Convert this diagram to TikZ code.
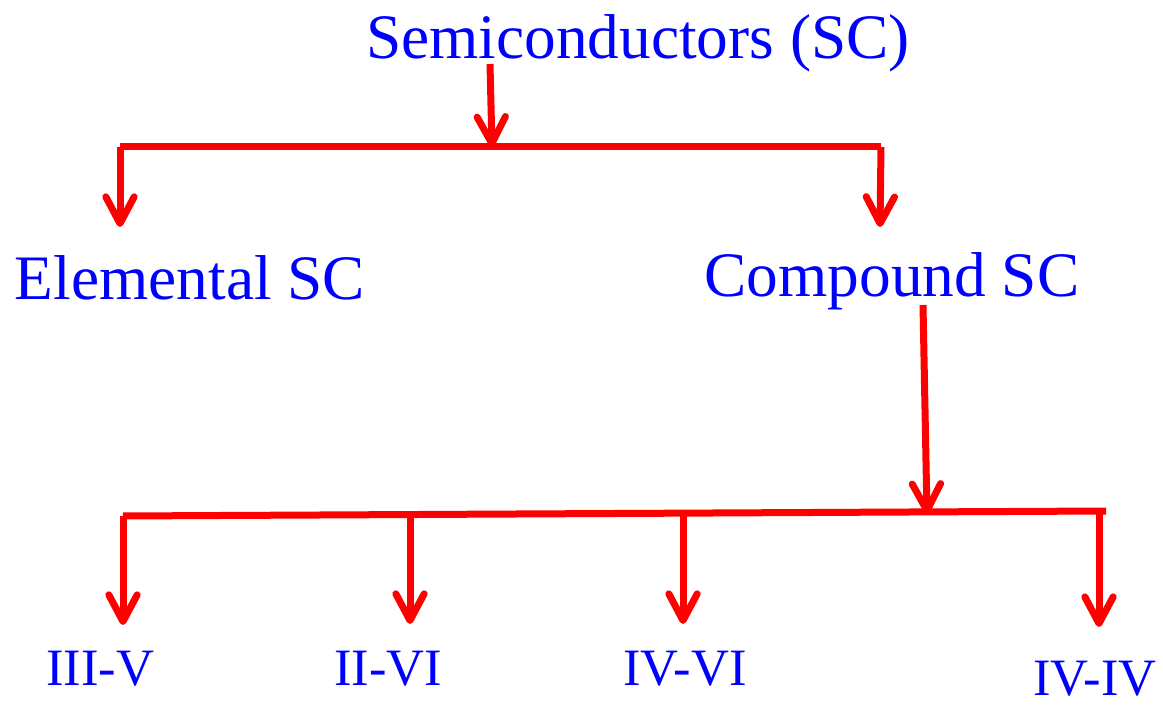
\documentclass[tikz,border=0pt]{standalone}
\usepackage{fontspec}
\setmainfont{Liberation Serif}
\usetikzlibrary{arrows.meta}
\begin{document}
\begin{tikzpicture}[x=0.6pt, y=-0.6pt, >={Straight Barb[round,length=16pt,width=17pt]},
  line/.style={red, line width=4.2pt},
  big/.style={text=blue, inner sep=0pt, anchor=base, font=\fontsize{38}{44}\selectfont},
  small/.style={text=blue, inner sep=0pt, anchor=base, font=\fontsize{31.5}{36}\selectfont}]
\useasboundingbox (0,0) rectangle (1163,705);
\node[big] (sc) at (638,59) {Semiconductors (SC)};
\node[big] (el) at (190,300) {Elemental SC};
\node[big] (co) at (892,297) {Compound SC};
% first split
\coordinate (s0) at (490,64);
\coordinate (s1) at (492,147);
\coordinate (bl) at (120,147);
\coordinate (br) at (881,147);
\coordinate (e1) at (120,227);
\coordinate (c1) at (880,227);
\draw[line,->] (s0)--(s1);
\draw[line] (bl)--(br);
\draw[line,->] (bl)--(e1);
\draw[line,->] (br)--(c1);
% second split
\coordinate (c2) at (923,305);
\coordinate (c3) at (927,514);
\draw[line,->] (c2)--(c3);
\draw[line] (123,516)--(1106,511);
\foreach \x/\y/\t [count=\i] in {123/516/625,410/515/624,683/514/624,1099/512/627}
{
    \coordinate (d\i) at (\x,\y);
    \coordinate (t\i) at (\x,\t);
    \draw[line,->] (d\i)--(t\i);
}
\node[small] (l1) at (100,685) {III-V};
\node[small] (l2) at (388,685) {II-VI};
\node[small] (l3) at (685,685) {IV-VI};
\node[small] (l4) at (1095,695) {IV-IV};

\end{tikzpicture}
\end{document}
